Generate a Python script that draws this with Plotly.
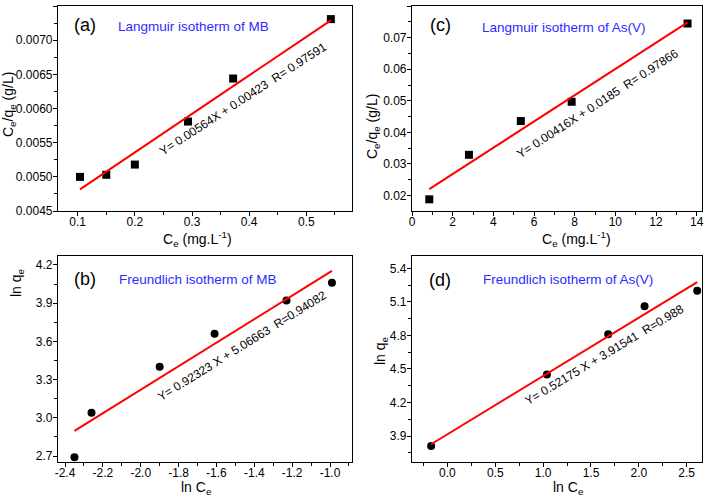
import plotly.graph_objects as go

# ---------------- data ----------------
# (a) Langmuir isotherm of MB
a_ce = [0.104, 0.150, 0.200, 0.293, 0.372, 0.543]
a_ceqe = [0.00500, 0.00503, 0.00518, 0.00581, 0.00644, 0.00731]
a_fit = [0.00564, 0.00423]  # slope, intercept

# (c) Langmuir isotherm of As(V)
c_ce = [0.85, 2.80, 5.35, 7.85, 13.55]
c_ceqe = [0.0188, 0.0329, 0.0436, 0.0497, 0.0745]
c_fit = [0.00416, 0.0185]

# (b) Freundlich isotherm of MB
b_lnce = [-2.35, -2.26, -1.90, -1.61, -1.23, -0.99]
b_lnqe = [2.69, 3.04, 3.40, 3.66, 3.92, 4.06]
b_fit = [0.92323, 5.06663]

# (d) Freundlich isotherm of As(V)
d_lnce = [-0.17, 1.04, 1.68, 2.06, 2.61]
d_lnqe = [3.81, 4.45, 4.81, 5.06, 5.20]
d_fit = [0.52175, 3.91541]

b_xticks = [-2.4, -2.2, -2.0, -1.8, -1.6, -1.4, -1.2, -1.0]
b_xticklabels = ["-2.4", "-2.2", "-2.0", "-1.8", "-1.6", "-1.4", "-1.2", "-1.0"]

titles = ["Langmuir isotherm of MB", "Langmuir isotherm of As(V)",
          "Freundlich isotherm of MB", "Freundlich isotherm of As(V)"]
panel_labels = ["(a)", "(c)", "(b)", "(d)"]
equations = ["Y= 0.00564X + 0.00423\u00a0\u00a0R= 0.97591",
             "Y= 0.00416X + 0.0185\u00a0\u00a0R= 0.97866",
             "Y= 0.92323 X + 5.06663\u00a0\u00a0R=0.94082",
             "Y= 0.52175 X + 3.91541\u00a0\u00a0R=0.988"]

W, H = 709, 502
FONT = "Liberation Sans, Arial, sans-serif"

def px(x):
    return x / W

def py(y):
    return 1 - y / H

fig = go.Figure()

panels = [
    (a_ce, a_ceqe, a_fit, "square", "x", "y"),
    (c_ce, c_ceqe, c_fit, "square", "x2", "y2"),
    (b_lnce, b_lnqe, b_fit, "circle", "x3", "y3"),
    (d_lnce, d_lnqe, d_fit, "circle", "x4", "y4"),
]
for xs, ys, fit, sym, xa, ya in panels:
    fig.add_trace(go.Scatter(x=xs, y=ys, mode="markers", xaxis=xa, yaxis=ya,
                             marker=dict(symbol=sym, size=8, color="black"),
                             showlegend=False, cliponaxis=False))
    x0, x1 = xs[0], xs[-1]
    fig.add_trace(go.Scatter(x=[x0, x1], y=[fit[0] * x0 + fit[1], fit[0] * x1 + fit[1]],
                             mode="lines", xaxis=xa, yaxis=ya,
                             line=dict(color="#ff0000", width=2), showlegend=False))

def axis(domain, rng, dtick, fmt, minor_dtick, anchor, standoff, **kw):
    d = dict(domain=domain, range=rng, dtick=dtick, tickformat=fmt,
             showline=True, linecolor="black", linewidth=1.2, mirror=True,
             ticks="outside", ticklen=4, tickwidth=1, tickcolor="black",
             showgrid=False, zeroline=False, anchor=anchor, automargin=False,
             ticklabelstandoff=standoff,
             tickfont=dict(family=FONT, size=12, color="black"),
             minor=dict(ticks="outside", ticklen=3, tickwidth=1, tickcolor="black",
                        dtick=minor_dtick, showgrid=False))
    d.update(kw)
    return d

xa_dom = [px(58), px(352)]
xc_dom = [px(412), px(702)]
ytop_dom = [py(211), py(6)]
ybot_dom = [py(462), py(256)]
XS, YS = -5, -2

fig.update_layout(
    width=W, height=H, autosize=False,
    margin=dict(l=0, r=0, t=0, b=0, autoexpand=False),
    paper_bgcolor="white", plot_bgcolor="white",
    xaxis=axis(xa_dom, [0.0655, 0.58], 0.1, ".1f", 0.05, "y", XS, tick0=0),
    yaxis=axis(ytop_dom, [0.0045, 0.007502], 0.0005, ".4f", 0.00025, "x", YS, tick0=0),
    xaxis2=axis(xc_dom, [0, 14.26], 2, "d", 1, "y2", XS, tick0=0),
    yaxis2=axis(ytop_dom, [0.0151, 0.08005], 0.01, ".2f", 0.005, "x2", YS, tick0=0),
    xaxis3=axis(xa_dom, [-2.437, -0.884], 0.2, ".1f", 0.1, "y3", XS,
                tickmode="array", tickvals=b_xticks, ticktext=b_xticklabels),
    yaxis3=axis(ybot_dom, [2.653, 4.27], 0.3, ".1f", 0.15, "x3", YS, tick0=2.7),
    xaxis4=axis(xc_dom, [-0.37, 2.66], 0.5, ".1f", 0.25, "y4", XS, tick0=0),
    yaxis4=axis(ybot_dom, [3.668, 5.51], 0.3, ".1f", 0.15, "x4", YS, tick0=3.9),
)

ann = []
# blue titles
for t, (cx, cy) in zip(titles, [(193, 27), (564, 28), (198, 279), (568, 279)]):
    ann.append(dict(text=t, x=px(cx), y=py(cy), xref="paper", yref="paper",
                    xanchor="center", yanchor="middle", showarrow=False,
                    font=dict(family=FONT, size=13.5, color="#2b2bff")))
# panel labels
for t, (cx, cy) in zip(panel_labels, [(85, 25), (440, 25), (85, 279), (440, 280)]):
    ann.append(dict(text=t, x=px(cx), y=py(cy), xref="paper", yref="paper",
                    xanchor="center", yanchor="middle", showarrow=False,
                    font=dict(family=FONT, size=18, color="black")))
# equations
for t, (cx, cy), ang in zip(equations, [(243, 99), (597, 104), (242, 346), (604, 355)],
                            [-33, -33, -32, -31]):
    ann.append(dict(text=t, x=px(cx), y=py(cy), xref="paper", yref="paper",
                    xanchor="center", yanchor="middle", showarrow=False, textangle=ang,
                    font=dict(family=FONT, size=12, color="black")))
# axis titles
xt = "C<sub>e</sub> (mg.L<sup>-1</sup>)"
yt_l = "C<sub>e</sub>/q<sub>e</sub> (g/L)"
xt_f = "ln C<sub>e</sub>"
yt_f = "ln q<sub>e</sub>"
for t, (cx, cy), ang in [(xt, (197, 239), 0), (xt, (576, 239), 0),
                         (xt_f, (196, 488), 0), (xt_f, (568, 488), 0),
                         (yt_l, (9, 105), -90), (yt_l, (373, 126), -90),
                         (yt_f, (17, 283), -90), (yt_f, (381, 351), -90)]:
    ann.append(dict(text=t, x=px(cx), y=py(cy), xref="paper", yref="paper",
                    xanchor="center", yanchor="middle", showarrow=False, textangle=ang,
                    font=dict(family=FONT, size=14, color="black")))
fig.update_layout(annotations=ann)

fig.write_html("out.html", config={"displayModeBar": False},
               post_script="document.body.style.margin='0';document.body.style.padding='0';")
